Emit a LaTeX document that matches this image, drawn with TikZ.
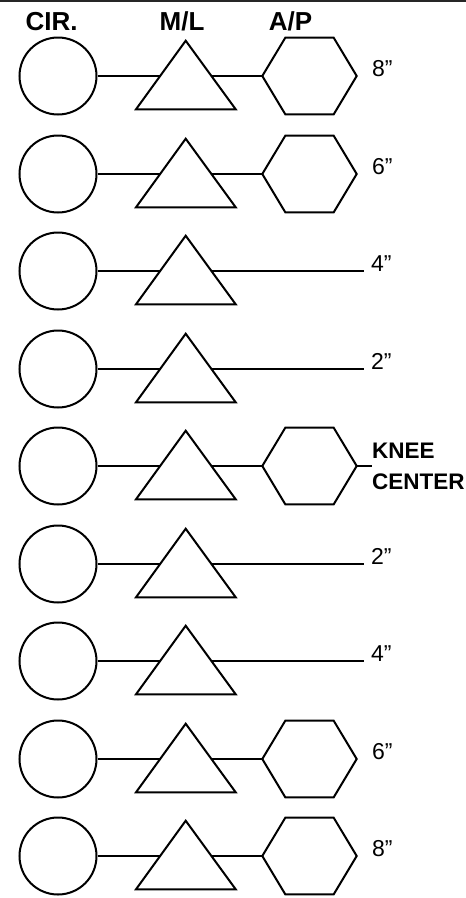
\documentclass[tikz,border=0pt]{standalone}
\usepackage{fontspec}
\setmainfont{Liberation Sans}
\begin{document}
\begin{tikzpicture}[x=1pt,y=-1pt,
  shapeline/.style={line width=2pt, line join=miter},
  conn/.style={line width=2pt},
  hdr/.style={font=\bfseries\fontsize{26}{26}\selectfont, inner sep=0pt, anchor=base},
  dist/.style={font=\fontsize{23}{23}\selectfont, inner sep=0pt, anchor=base west},
  knee/.style={font=\bfseries\fontsize{22.5}{22.5}\selectfont, inner sep=0pt, anchor=base west}]
\useasboundingbox (0,0) rectangle (466,898);
\draw[line width=2pt, black!85] (0,1) -- (466,1);
\node[hdr] (hcir) at (51.5,30) {CIR.};
\node[hdr] (hml) at (182,30) {M/L};
\node[hdr] (hap) at (290.5,30) {A/P};
% kind: 1 = hexagon, 2 = long line, 3 = knee
\foreach \i/\kind/\lab in {0/1/8”,1/1/6”,2/2/4”,3/2/2”,4/3/,5/2/2”,6/2/4”,7/1/6”,8/1/8”}{
  \pgfmathsetmacro{\ry}{round(76+97.5*\i)}
  \node[circle, draw, shapeline, minimum size=77pt, inner sep=0pt] (c\i) at (58,\ry) {};
  \coordinate (tA\i) at (185.7,\ry-35.3);
  \coordinate (tL\i) at (136,\ry+33.3);
  \coordinate (tR\i) at (235.7,\ry+33.3);
  \ifnum\kind=2
    \coordinate (e\i) at (364,\ry);
    \draw[conn] (c\i.east) -- (e\i);
    \node[dist] (l\i) at (371,\ry) {\lab};
  \else
    \coordinate (hW\i) at (262.3,\ry);
    \coordinate (hE\i) at (356.7,\ry);
    \coordinate (hNW\i) at (285.3,\ry-38.3);
    \coordinate (hNE\i) at (333.7,\ry-38.3);
    \coordinate (hSW\i) at (285.3,\ry+38.3);
    \coordinate (hSE\i) at (333.7,\ry+38.3);
    \draw[conn] (c\i.east) -- (hW\i);
    \draw[shapeline, fill=white] (hW\i) -- (hNW\i) -- (hNE\i) -- (hE\i) -- (hSE\i) -- (hSW\i) -- cycle;
    \ifnum\kind=1
      \node[dist] (l\i) at (372,\ry) {\lab};
    \else
      \coordinate (e\i) at (372,\ry);
      \draw[conn] (hE\i) -- (e\i);
      \node[knee] (k1) at (372,\ry-8) {KNEE};
      \node[knee] (k2) at (372,\ry+23) {CENTER};
    \fi
  \fi
  \draw[shapeline, fill=white] (tA\i) -- (tL\i) -- (tR\i) -- cycle;
}
\end{tikzpicture}
\end{document}
